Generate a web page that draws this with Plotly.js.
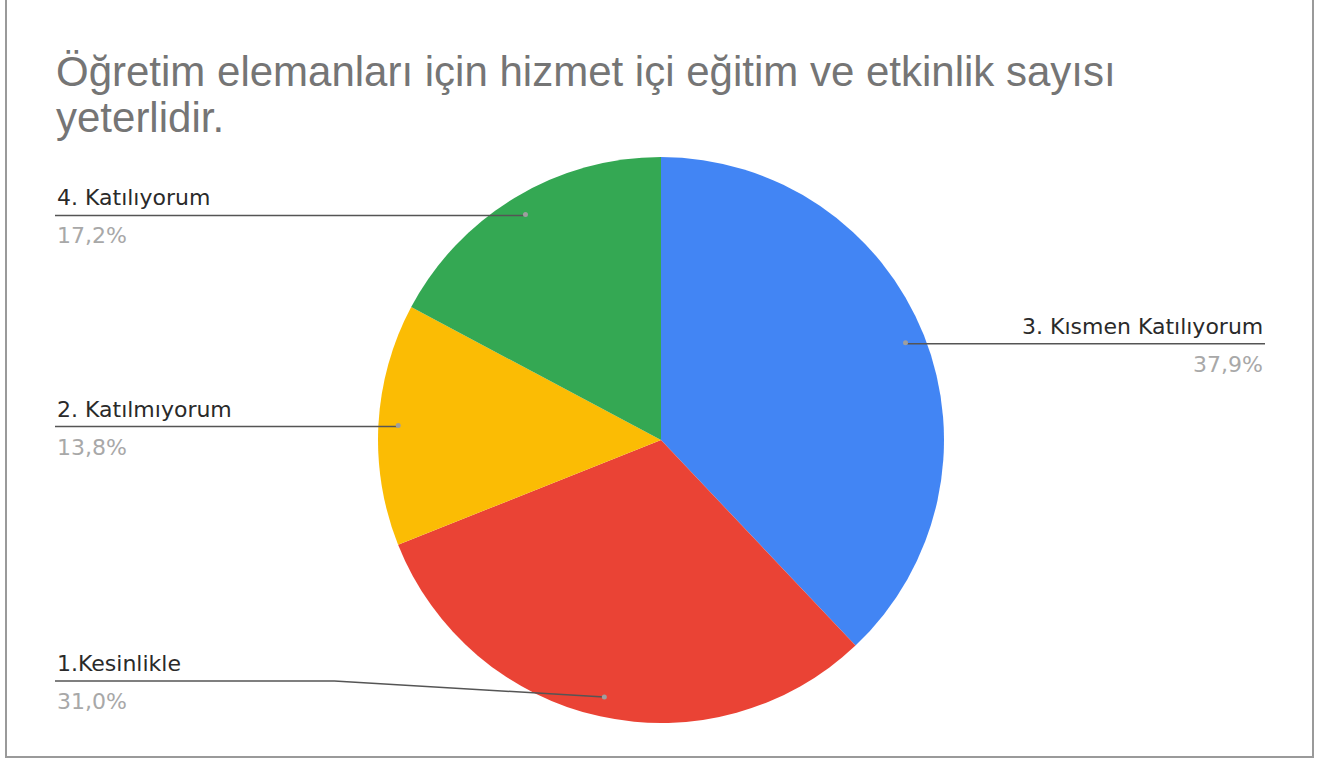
<!DOCTYPE html>
<html><head><meta charset="utf-8">
<script src="https://cdn.plot.ly/plotly-3.0.1.min.js"></script>
<style>html,body{margin:0;padding:0;background:#fff;overflow:hidden}#chart{width:1333px;height:763px}</style>
</head><body><div id="chart"></div>
<script>
const titleLines = ["Öğretim elemanları için hizmet içi eğitim ve etkinlik sayısı", "yeterlidir."];
const categories = ["3. Kısmen Katılıyorum", "1.Kesinlikle", "2. Katılmıyorum", "4. Katılıyorum"];
const percents = [37.9, 31.0, 13.8, 17.2];
const percentLabels = ["37,9%", "31,0%", "13,8%", "17,2%"];
const colors = ["#4285F4", "#EA4335", "#FBBC04", "#34A853"];

const W = 1333, H = 763;
const cx = 661, cy = 440, R = 283;
const TFONT = "Liberation Sans, Arial, sans-serif";
const LFONT = "DejaVu Sans, sans-serif";
const px = x => x / W, py = y => 1 - y / H;

const total = percents.reduce((a, b) => a + b, 0);
const shapes = [], annotations = [];
let cum = 0;
percents.forEach((v, i) => {
  const th = 2 * Math.PI * (cum + v / 2) / total;
  cum += v;
  const rd = 0.93 * R;
  const dx = cx + rd * Math.sin(th), dy = cy - rd * Math.cos(th);
  const left = Math.sin(th) < 0;
  const lineY = Math.min(dy + 1, 681);
  const xEnd = left ? 55 : 1265;
  let path;
  if (Math.abs(lineY - dy) > 3) {
    const xk = left ? dx - 270 : dx + 270;
    path = `M ${px(xEnd)} ${py(lineY)} L ${px(xk)} ${py(lineY)} L ${px(dx)} ${py(dy)}`;
  } else {
    path = `M ${px(xEnd)} ${py(lineY)} L ${px(dx)} ${py(lineY)}`;
  }
  shapes.push({type: "path", xref: "paper", yref: "paper", path: path, line: {color: "#555", width: 1.5}});
  shapes.push({type: "circle", xref: "paper", yref: "paper",
    x0: px(dx - 2.5), x1: px(dx + 2.5), y0: py(dy + 2.5), y1: py(dy - 2.5),
    fillcolor: "#9e9e9e", line: {width: 0}});
  annotations.push({xref: "paper", yref: "paper", x: px(xEnd), y: py(lineY - 3),
    xanchor: left ? "left" : "right", yanchor: "bottom", showarrow: false,
    text: categories[i], font: {family: LFONT, size: 22, color: "#2a2a2a"}});
  annotations.push({xref: "paper", yref: "paper", x: px(xEnd), y: py(lineY + 6),
    xanchor: left ? "left" : "right", yanchor: "top", showarrow: false,
    text: percentLabels[i], font: {family: LFONT, size: 22, color: "#a8a8a8"}});
});

titleLines.forEach((t, k) => {
  annotations.push({xref: "paper", yref: "paper", x: px(54), y: py(72 + 45 * k), xanchor: "left", yanchor: "middle",
    align: "left", showarrow: false, text: t, font: {family: TFONT, size: 42, color: "#757575"}});
});

// frame
shapes.unshift({type: "rect", xref: "paper", yref: "paper", x0: px(6), x1: px(1313), y0: py(757), y1: py(-5),
  line: {color: "#9a9a9a", width: 2}, fillcolor: "rgba(0,0,0,0)", layer: "below"});

const trace = {
  type: "pie", labels: categories, values: percents, sort: false, direction: "clockwise", rotation: 0,
  marker: {colors: colors, line: {width: 0}}, textinfo: "none", hoverinfo: "label+percent",
  domain: {x: [px(cx - R), px(cx + R)], y: [py(cy + R), py(cy - R)]}
};

Plotly.newPlot("chart", [trace], {
  width: W, height: H, margin: {l: 0, r: 0, t: 0, b: 0}, showlegend: false,
  paper_bgcolor: "#fff", shapes: shapes, annotations: annotations, font: {family: TFONT}
}, {displayModeBar: false, staticPlot: true});
</script></body></html>
